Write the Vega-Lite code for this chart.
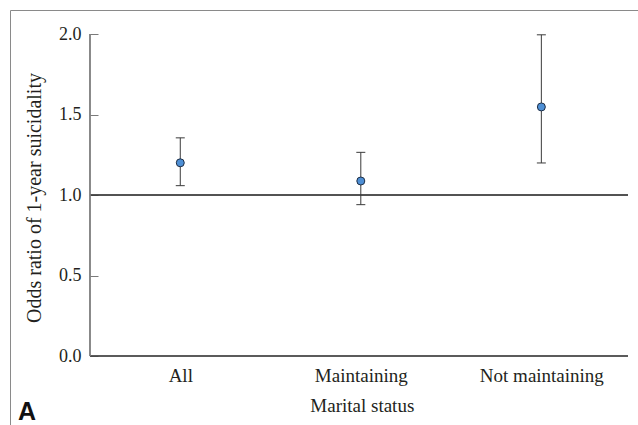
{
  "$schema": "https://vega.github.io/schema/vega-lite/v6.json",
  "width": 628,
  "height": 415,
  "autosize": {"type": "none"},
  "padding": {"left": 10, "top": 10, "right": 0, "bottom": 0},
  "background": "white",
  "config": {
    "view": {"stroke": "#8a8a8a", "strokeWidth": 1, "strokeDash": [628, 1043, 415, 0]},
    "font": "Liberation Serif"
  },
  "title": {
    "text": "A",
    "orient": "bottom",
    "anchor": "start",
    "frame": "group",
    "font": "Liberation Sans",
    "fontWeight": "bold",
    "fontSize": 25,
    "color": "#111111",
    "baseline": "alphabetic",
    "offset": -5,
    "dx": 8
  },
  "data": {
    "values": [
      {"status": "All", "x": 1, "or": 1.2, "lo": 1.058, "hi": 1.355},
      {"status": "Maintaining", "x": 2, "or": 1.087, "lo": 0.94, "hi": 1.265},
      {"status": "Not maintaining", "x": 3, "or": 1.547, "lo": 1.199, "hi": 1.995}
    ]
  },
  "layer": [
    {
      "mark": {"type": "rule", "color": "#3a3a3a", "strokeWidth": 1},
      "encoding": {
        "x": {"datum": 0.5, "type": "quantitative"},
        "x2": {"datum": 3.48},
        "y": {"datum": 1, "type": "quantitative"}
      }
    },
    {
      "mark": {"type": "rule", "color": "#444444", "strokeWidth": 1},
      "encoding": {
        "x": {"datum": 0.5, "type": "quantitative"},
        "x2": {"datum": 3.48},
        "y": {"datum": 0, "type": "quantitative"}
      }
    },
    {
      "mark": {"type": "rule", "color": "#7a7a7a", "strokeWidth": 1},
      "encoding": {
        "x": {"datum": 0.5, "type": "quantitative"},
        "y": {"datum": 0, "type": "quantitative"},
        "y2": {"datum": 2}
      }
    },
    {
      "mark": {"type": "rule", "color": "#3a3a3a", "strokeWidth": 1},
      "encoding": {
        "x": {"field": "x", "type": "quantitative"},
        "y": {"field": "lo", "type": "quantitative"},
        "y2": {"field": "hi"}
      }
    },
    {
      "mark": {"type": "tick", "orient": "horizontal", "size": 9, "thickness": 1, "color": "#3a3a3a", "opacity": 1},
      "encoding": {
        "x": {"field": "x", "type": "quantitative"},
        "y": {"field": "lo", "type": "quantitative"}
      }
    },
    {
      "mark": {"type": "tick", "orient": "horizontal", "size": 9, "thickness": 1, "color": "#3a3a3a", "opacity": 1},
      "encoding": {
        "x": {"field": "x", "type": "quantitative"},
        "y": {"field": "hi", "type": "quantitative"}
      }
    },
    {
      "mark": {"type": "circle", "size": 64, "fill": "#4e8fd5", "stroke": "#1e2e45", "strokeWidth": 1, "opacity": 1},
      "encoding": {
        "x": {
          "field": "x",
          "type": "quantitative",
          "scale": {"domain": [0.05689, 3.53534], "nice": false, "zero": false},
          "axis": {
            "title": "Marital status",
            "values": [1, 2, 3],
            "labelExpr": "datum.value == 1 ? 'All' : datum.value == 2 ? 'Maintaining' : 'Not maintaining'",
            "domain": false,
            "ticks": false,
            "tickSize": 0,
            "grid": false,
            "offset": -69,
            "labelPadding": 25,
            "labelBaseline": "alphabetic",
            "labelFlush": false,
            "labelOverlap": false,
            "labelFont": "Liberation Serif",
            "labelFontSize": 19,
            "labelColor": "#231f20",
            "titleFont": "Liberation Serif",
            "titleFontSize": 19,
            "titleFontWeight": "normal",
            "titleColor": "#231f20",
            "titleX": 351.8,
            "titleY": 55,
            "titleBaseline": "alphabetic"
          }
        },
        "y": {
          "field": "or",
          "type": "quantitative",
          "scale": {"domain": [-0.42857, 2.14907], "nice": false, "zero": false},
          "axis": {
            "title": "Odds ratio of 1-year suicidality",
            "values": [0, 0.5, 1, 1.5, 2],
            "format": ".1f",
            "domain": false,
            "grid": false,
            "offset": -80,
            "tickSize": -8,
            "tickColor": "#7a7a7a",
            "tickWidth": 1,
            "labelPadding": 17,
            "labelFlush": false,
            "labelOverlap": false,
            "labelFont": "Liberation Serif",
            "labelFontSize": 18,
            "labelColor": "#231f20",
            "titleFont": "Liberation Serif",
            "titleFontSize": 20,
            "titleFontWeight": "normal",
            "titleColor": "#231f20",
            "titleX": -50,
            "titleY": 187.5,
            "titleAngle": -90,
            "titleBaseline": "alphabetic"
          }
        }
      }
    }
  ]
}
